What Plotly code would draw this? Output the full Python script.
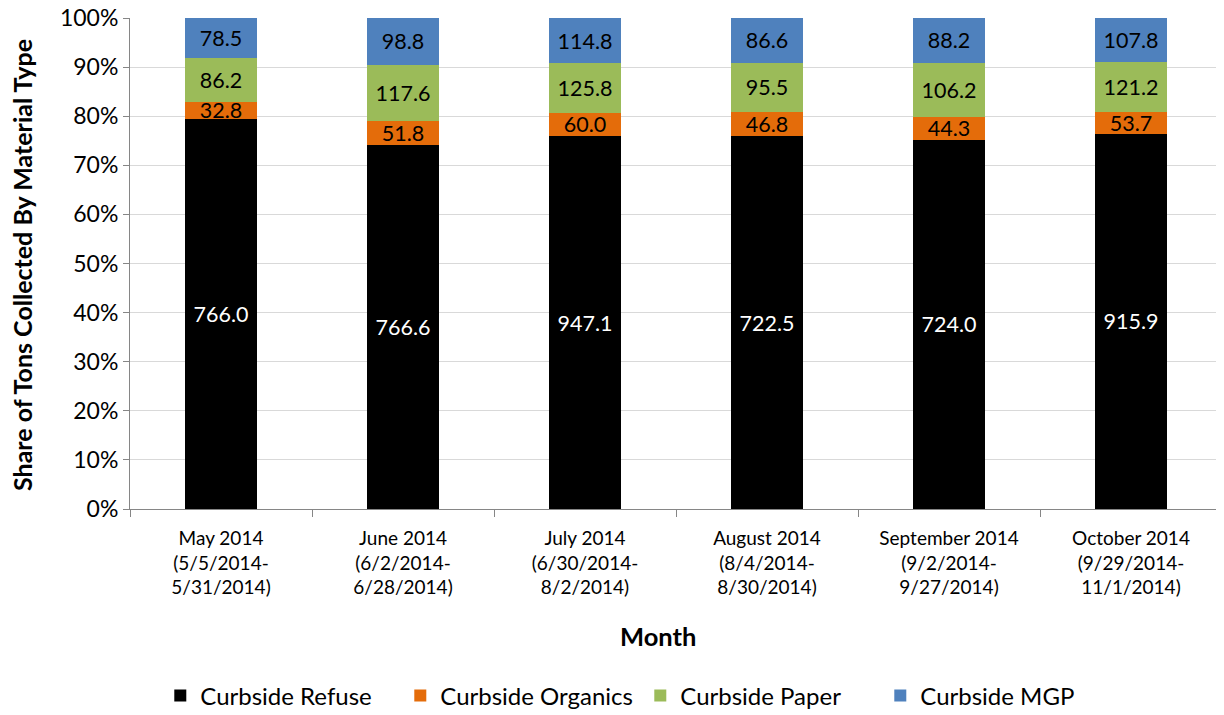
import plotly.graph_objects as go

months = [
    "May 2014<br>(5/5/2014-<br>5/31/2014)",
    "June 2014<br>(6/2/2014-<br>6/28/2014)",
    "July 2014<br>(6/30/2014-<br>8/2/2014)",
    "August 2014<br>(8/4/2014-<br>8/30/2014)",
    "September 2014<br>(9/2/2014-<br>9/27/2014)",
    "October 2014<br>(9/29/2014-<br>11/1/2014)",
]
refuse = [766.0, 766.6, 947.1, 722.5, 724.0, 915.9]
organics = [32.8, 51.8, 60.0, 46.8, 44.3, 53.7]
paper = [86.2, 117.6, 125.8, 95.5, 106.2, 121.2]
mgp = [78.5, 98.8, 114.8, 86.6, 88.2, 107.8]

series = [
    ("Curbside Refuse", refuse, "#000000", "white"),
    ("Curbside Organics", organics, "#E46C0A", "black"),
    ("Curbside Paper", paper, "#9BBB59", "black"),
    ("Curbside MGP", mgp, "#4F81BD", "black"),
]

FONT = "Lato, 'Open Sans', sans-serif"
idx = list(range(len(months)))

fig = go.Figure()
for name, vals, color, tcolor in series:
    fig.add_trace(go.Bar(
        x=idx, y=vals, name=name, marker=dict(color=color, line=dict(width=0)),
        text=[f"{v:.1f}" for v in vals], textposition="inside",
        insidetextanchor="middle", textangle=0, constraintext="none",
        textfont=dict(color=tcolor, size=21.5, family=FONT),
        hoverinfo="skip",
    ))

# dummy trace for boundary tick axis
fig.add_trace(go.Scatter(x=[-0.5, len(months) - 0.5], y=[0, 0], xaxis="x2", yaxis="y",
                         mode="markers", marker=dict(opacity=0), showlegend=False,
                         hoverinfo="skip"))

fig.update_layout(
    width=1216, height=707,
    barmode="stack", barnorm="percent", bargap=0.6,
    plot_bgcolor="white", paper_bgcolor="white",
    margin=dict(l=122, r=2, t=10, b=206, autoexpand=False),
    font=dict(family=FONT, color="black"),
    xaxis=dict(
        tickmode="array", tickvals=idx, ticktext=months,
        range=[-0.5, len(months) - 0.5], automargin=False,
        showline=True, linecolor="#868686", linewidth=1,
        ticks="", tickfont=dict(size=19, family=FONT), ticklabelstandoff=12,
        showgrid=False, zeroline=False,
    ),
    xaxis2=dict(
        overlaying="x", matches="x", range=[-0.5, len(months) - 0.5],
        tickmode="array", tickvals=[i - 0.5 for i in range(len(months) + 1)],
        ticks="outside", ticklen=7, tickcolor="#868686", showticklabels=False,
        showgrid=False, zeroline=False, side="bottom", anchor="y", automargin=False,
    ),
    yaxis=dict(
        range=[0, 100], tickvals=list(range(0, 101, 10)),
        ticktext=[f"{v}%" for v in range(0, 101, 10)], automargin=False,
        ticklabeloverflow="allow",
        showgrid=True, gridcolor="#D9D9D9", gridwidth=1,
        showline=True, linecolor="#868686", linewidth=1,
        ticks="outside", ticklen=6, tickcolor="#868686",
        tickfont=dict(size=23, family=FONT), zeroline=False,
    ),
    annotations=[
        dict(text="<b>Month</b>", xref="paper", yref="paper",
             x=0.4835, y=-0.2587, xanchor="center", yanchor="middle",
             showarrow=False, font=dict(size=25.5, family=FONT)),
        dict(text="<b>Share of Tons Collected By Material Type</b>", xref="paper", yref="paper",
             x=-0.0989, y=0.497, xanchor="center", yanchor="middle", textangle=-90,
             showarrow=False, font=dict(size=25, family=FONT)),
    ],
    legend=dict(orientation="h", x=0.4673, xanchor="center", y=-0.335, yanchor="top",
                font=dict(size=24, family=FONT), traceorder="normal",
                entrywidth=195, entrywidthmode="pixels"),
)

fig.write_html("out.html")
